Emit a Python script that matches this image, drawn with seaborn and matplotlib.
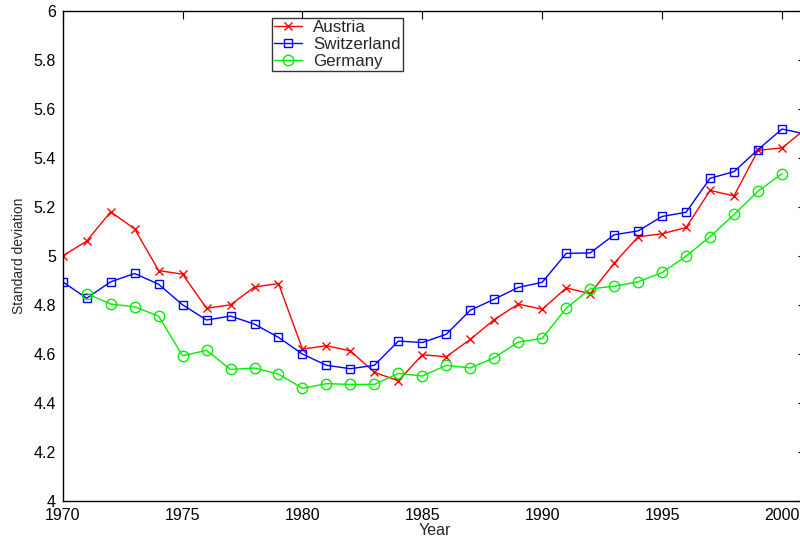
import matplotlib
matplotlib.use("Agg")
import matplotlib.pyplot as plt
import seaborn as sns
import pandas as pd

years = list(range(1970, 2002))
austria = [5.00, 5.06, 5.18, 5.11, 4.94, 4.925, 4.786, 4.80, 4.873, 4.887,
           4.619, 4.633, 4.612, 4.524, 4.49, 4.596, 4.588, 4.659, 4.74, 4.803,
           4.782, 4.869, 4.846, 4.97, 5.078, 5.09, 5.116, 5.267, 5.245, 5.431,
           5.441, 5.52]
switzerland = [4.894, 4.827, 4.894, 4.928, 4.884, 4.80, 4.738, 4.754, 4.721, 4.667,
               4.599, 4.553, 4.539, 4.553, 4.652, 4.646, 4.68, 4.778, 4.823, 4.871,
               4.892, 5.01, 5.012, 5.086, 5.102, 5.161, 5.178, 5.317, 5.344, 5.434,
               5.518, 5.497]
germany_years = list(range(1971, 2001))
germany = [4.846, 4.803, 4.792, 4.754, 4.592, 4.614, 4.536, 4.542, 4.517,
           4.459, 4.478, 4.475, 4.475, 4.52, 4.509, 4.553, 4.542, 4.584, 4.648,
           4.663, 4.786, 4.865, 4.876, 4.894, 4.932, 4.999, 5.078, 5.169, 5.264,
           5.336]
country_names = ["Austria", "Switzerland", "Germany"]
x_ticks = [1970, 1975, 1980, 1985, 1990, 1995, 2000]
y_ticks = [4, 4.2, 4.4, 4.6, 4.8, 5, 5.2, 5.4, 5.6, 5.8, 6]
y_tick_labels = ["4", "4.2", "4.4", "4.6", "4.8", "5", "5.2", "5.4",
                 "5.6", "5.8", "6"]

styles = [
    ("#ff0000", "x", 5.5),
    ("#0000ff", "s", 5.5),
    ("#00ee00", "o", 7.5),
]
data = [(years, austria), (years, switzerland), (germany_years, germany)]

sns.set_style("white")
plt.rcParams["font.family"] = ["Liberation Sans", "DejaVu Sans"]

fig = plt.figure(figsize=(8.0, 5.37), dpi=100)
ax = fig.add_axes([62.7 / 800, (537 - 500.7) / 537,
                   (806 - 62.7) / 800, (500.7 - 11) / 537])

for name, (xs, ys), (color, marker, ms) in zip(country_names, data, styles):
    df = pd.DataFrame({"Year": xs, "value": ys})
    sns.lineplot(data=df, x="Year", y="value", ax=ax, color=color,
                 marker=marker, markersize=ms, markerfacecolor="none",
                 markeredgecolor=color, markeredgewidth=1.0, linewidth=1.0,
                 label=name, legend=False)

handles = ax.get_lines()[:3]

ax.set_xlim(1970, 2001)
ax.set_ylim(4, 6)
ax.set_xticks(x_ticks)
ax.set_yticks(y_ticks)
ax.set_yticklabels(y_tick_labels)
ax.tick_params(direction="in", length=6, width=0.8, top=True, right=True,
               labelsize=11.5, colors="black")
ax.tick_params(axis="x", pad=5)
ax.tick_params(axis="y", pad=5)
for sp in ax.spines.values():
    sp.set_color("black")
    sp.set_linewidth(1.0)

ax.set_xlabel("Year", fontsize=11.5, labelpad=0)
ax.set_ylabel("Standard deviation", fontsize=10, labelpad=5)

leg = ax.legend(handles=handles, labels=country_names,
                loc="upper left", bbox_to_anchor=(0.2816, 0.9857),
                frameon=True, fancybox=False, fontsize=12.2,
                handlelength=1.65, handletextpad=0.65, borderpad=0.12,
                borderaxespad=0, labelspacing=0.12)
leg.get_frame().set_edgecolor("black")
leg.get_frame().set_linewidth(1.0)

fig.savefig("out.png", dpi=100)
